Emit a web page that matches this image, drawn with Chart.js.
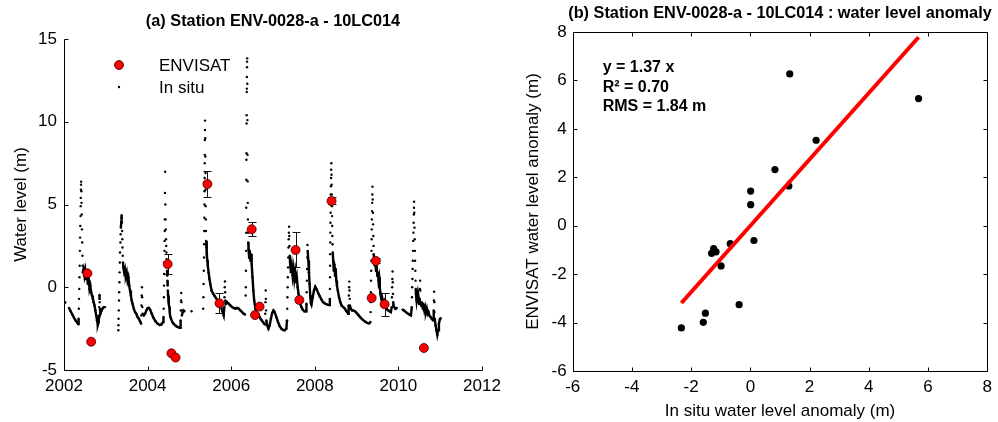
<!DOCTYPE html>
<html>
<head>
<meta charset="utf-8">
<script src="https://cdn.jsdelivr.net/npm/chart.js@4/dist/chart.umd.min.js"></script>
<style>
  html, body { margin: 0; padding: 0; background: #fff; }
  #wrap { position: relative; width: 998px; height: 422px; overflow: hidden; }
  canvas { position: absolute; top: 0; }
  #left { left: 0; }
  #right { left: 500px; }
</style>
</head>
<body>
<div id="wrap">
  <canvas id="left" width="540" height="422"></canvas>
  <canvas id="right" width="498" height="422"></canvas>
</div>
<script>
const FONT = '"Liberation Sans", Arial, sans-serif'

// tick labels
const yearTicks = [2002, 2004, 2006, 2008, 2010, 2012]
const levelTicks = [-5, 0, 5, 10, 15]
const anomTicks = [-6, -4, -2, 0, 2, 4, 6, 8]

// (a) ENVISAT water level (m) with error bars
const envYear    = [2002.56, 2002.65, 2004.48, 2004.57, 2004.67, 2005.43, 2005.72, 2006.49, 2006.57, 2006.68, 2007.54, 2007.63, 2008.40, 2009.36, 2009.46, 2009.67, 2010.61]
const envLevel   = [0.84, -3.29, 1.40, -3.99, -4.25, 6.24, -0.97, 3.50, -1.68, -1.17, 2.25, -0.77, 5.21, -0.65, 1.59, -1.03, -3.67]
const envErrLow  = [null, null, 0.80, null, null, 5.47, -1.58, 3.12, null, null, 1.20, -0.90, 5.03, null, 1.45, -1.74, null]
const envErrHigh = [null, null, 2.01, null, null, 7.04, -0.37, 3.92, null, null, 3.32, -0.65, 5.47, null, 1.75, -0.37, null]

// (a) in situ water level, [year, m]
const insitu2002 = [
  [2002.00,-0.88],[2002.03,-0.92],
  [2002.12,-1.25],[2002.16,-1.45],[2002.20,-1.65],[2002.24,-1.85],[2002.28,-2.02],[2002.32,-2.15],[2002.34,-2.22],
  [2002.350,-1.9],[2002.355,-1.3],[2002.360,-0.7],[2002.365,-0.1],[2002.370,0.6],[2002.375,1.3],[2002.380,2.2],[2002.385,3.0],[2002.390,3.7],[2002.395,4.3],[2002.400,4.9],[2002.402,5.4],[2002.405,5.9],[2002.408,6.2],[2002.410,6.38],
  [2002.415,5.8],[2002.420,5.1],[2002.425,4.4],[2002.430,3.5],[2002.435,2.7],[2002.440,1.9],[2002.445,1.3],
  [2002.45,0.9],[2002.47,1.1],[2002.49,0.7],[2002.51,1.0],[2002.53,0.5],[2002.55,0.9],[2002.57,0.2],[2002.59,0.6],[2002.61,-0.1],[2002.63,0.1],[2002.65,-0.3],[2002.67,-0.5],[2002.69,-0.7],[2002.71,-0.9],[2002.73,-1.1],[2002.75,-1.4],[2002.77,-1.7],[2002.79,-2.0],[2002.81,-2.28],[2002.83,-2.1],
  [2002.838,-1.7],[2002.842,-1.2],[2002.846,-0.7],[2002.850,-0.47],[2002.855,-0.9],[2002.860,-1.3],[2002.87,-1.6],[2002.89,-1.45],[2002.92,-1.3],[2002.95,-1.2],[2002.98,-1.2]
]
const insitu2003 = [
  [2003.300,-2.6],[2003.302,-2.3],[2003.305,-1.9],[2003.310,-1.4],[2003.315,-0.8],[2003.320,-0.3],[2003.325,0.3],[2003.330,0.9],[2003.335,1.5],[2003.340,2.1],[2003.350,2.7],[2003.355,3.2],[2003.360,3.6],[2003.370,3.95],[2003.375,4.2],[2003.380,4.35],
  [2003.385,3.9],[2003.390,3.4],[2003.395,2.9],[2003.400,2.4],[2003.405,1.9],[2003.410,1.5],
  [2003.42,1.2],[2003.44,0.9],[2003.46,1.1],[2003.48,0.7],[2003.50,0.9],[2003.52,0.4],[2003.54,0.6],[2003.56,0.1],[2003.58,-0.2],[2003.60,-0.5],[2003.62,-0.8],[2003.64,-1.0],[2003.67,-1.3],[2003.70,-1.5],[2003.73,-1.6],[2003.76,-1.8],[2003.79,-1.9],[2003.82,-2.05],[2003.845,-2.2],
  [2003.850,-1.7],[2003.855,-1.1],[2003.860,-0.5],[2003.865,0.0],[2003.870,-0.6],[2003.875,-1.2],[2003.88,-1.6],[2003.91,-1.7],[2003.94,-1.6],[2003.97,-1.4],[2004.00,-1.27],[2004.03,-1.25],[2004.06,-1.35],[2004.10,-1.6],[2004.14,-1.85],[2004.19,-2.05],[2004.24,-2.2],[2004.29,-2.28],[2004.33,-2.25],[2004.37,-2.1]
]
const insitu2004 = [
  [2004.380,-1.8],[2004.385,-1.3],[2004.390,-0.6],[2004.393,0.1],[2004.396,0.8],[2004.400,1.5],[2004.403,2.2],[2004.406,2.8],[2004.410,3.4],[2004.413,4.1],[2004.416,5.7],[2004.420,6.98],
  [2004.425,5.0],[2004.430,4.1],[2004.435,3.5],[2004.440,2.9],[2004.445,2.5],[2004.450,2.1],[2004.455,1.7],[2004.460,1.3],[2004.465,1.0],[2004.470,0.7],[2004.475,0.4],[2004.480,0.1],[2004.485,-0.2],
  [2004.49,-0.5],[2004.50,-0.85],[2004.51,-1.0],[2004.52,-1.2],[2004.53,-1.5],[2004.54,-1.75],[2004.56,-1.9],[2004.59,-2.1],[2004.62,-2.2],[2004.66,-2.3],[2004.70,-2.38],[2004.74,-2.42],[2004.78,-2.45],
  [2004.790,-2.0],[2004.795,-1.4],[2004.800,-0.8],[2004.805,-0.35],[2004.810,-0.9],[2004.815,-1.4],[2004.82,-1.7],[2004.84,-1.5],[2004.86,-1.4],[2004.88,-1.45],
  [2005.05,-1.45]
]
const insitu2005 = [
  [2005.330,-1.3],[2005.335,-0.6],[2005.340,0.2],[2005.345,1.0],[2005.350,1.8],[2005.352,2.6],[2005.355,3.4],[2005.358,4.2],[2005.360,5.0],[2005.362,5.8],[2005.365,6.6],[2005.367,7.5],[2005.368,8.0],[2005.370,8.9],[2005.372,9.5],[2005.374,10.07],
  [2005.378,9.0],[2005.381,7.9],[2005.384,6.9],[2005.387,5.9],[2005.390,4.9],[2005.393,4.1],[2005.396,3.4],[2005.400,2.8],
  [2005.41,2.4],[2005.42,2.0],[2005.43,1.6],[2005.44,1.3],[2005.46,0.9],[2005.48,0.5],[2005.50,0.2],[2005.53,-0.2],[2005.57,-0.4],[2005.61,-0.55],[2005.65,-0.7],[2005.69,-0.85],[2005.73,-1.0],[2005.76,-1.2],[2005.79,-1.45],[2005.82,-1.7],
  [2005.835,-1.2],[2005.840,-0.6],[2005.845,0.0],[2005.850,0.35],[2005.855,-0.3],[2005.860,-0.8],[2005.87,-1.0],[2005.90,-0.9],[2005.94,-1.0],[2005.98,-1.1],[2006.02,-1.2],[2006.06,-1.25],[2006.10,-1.3],[2006.14,-1.25],[2006.18,-1.3],[2006.22,-1.4],[2006.26,-1.5],[2006.30,-1.6],[2006.33,-1.65]
]
const insitu2006 = [
  [2006.347,-0.5],[2006.350,0.0],[2006.352,1.0],[2006.355,2.2],[2006.358,3.3],[2006.360,4.8],[2006.362,6.5],[2006.364,7.7],[2006.366,8.1],[2006.368,9.9],[2006.370,10.4],[2006.372,11.8],[2006.374,12.0],[2006.376,12.7],[2006.378,13.3],[2006.380,13.63],[2006.382,13.83],
  [2006.385,12.3],[2006.388,10.1],[2006.391,8.0],[2006.394,6.4],[2006.397,5.1],[2006.400,4.1],[2006.404,3.3],[2006.408,2.7],
  [2006.415,2.3],[2006.43,1.8],[2006.445,2.2],[2006.46,1.6],[2006.475,2.0],[2006.49,1.4],[2006.51,0.6],[2006.53,-0.2],[2006.55,-0.8],[2006.58,-1.3],[2006.61,-1.55],[2006.64,-1.6],[2006.67,-1.75],[2006.70,-1.9],[2006.73,-2.0],[2006.76,-2.1],[2006.79,-2.2],[2006.81,-2.25],
  [2006.815,-1.6],[2006.820,-0.9],[2006.825,-0.2],[2006.830,-0.7],[2006.835,-1.4],[2006.840,-2.0],[2006.86,-2.3],[2006.89,-2.5],[2006.92,-2.3],[2006.95,-1.9],[2006.98,-1.55],[2007.01,-1.4],[2007.04,-1.5],[2007.08,-1.8],[2007.12,-2.1],[2007.16,-2.35],[2007.20,-2.5],[2007.24,-2.58],[2007.28,-2.6],[2007.32,-2.5]
]
const insitu2007 = [
  [2007.335,-2.0],[2007.340,-1.3],[2007.345,-0.6],[2007.350,0.0],[2007.355,0.6],[2007.360,1.2],[2007.365,1.8],[2007.370,2.4],[2007.375,2.9],[2007.380,3.3],[2007.385,3.66],
  [2007.390,3.1],[2007.395,2.5],[2007.400,1.9],[2007.41,1.4],[2007.43,0.9],[2007.45,1.3],[2007.47,0.7],[2007.49,1.1],[2007.51,0.5],[2007.53,0.9],[2007.55,0.3],[2007.57,0.6],[2007.59,0.0],[2007.61,-0.4],[2007.63,-0.7],[2007.65,-1.0],[2007.68,-1.2],[2007.71,-1.35],[2007.75,-1.45],[2007.79,-1.45],
  [2007.800,-1.0],[2007.805,-0.3],[2007.810,0.4],[2007.815,1.1],[2007.820,1.8],[2007.825,2.55],
  [2007.83,2.2],[2007.845,1.6],[2007.86,0.9],[2007.875,0.2],[2007.89,-0.5],[2007.905,-0.95],[2007.92,-1.05],[2007.95,-0.6],[2007.98,-0.2],[2008.01,0.03],[2008.04,-0.1],[2008.08,-0.35],[2008.12,-0.55],[2008.16,-0.75],[2008.20,-0.9],[2008.25,-1.0],[2008.30,-1.05],[2008.35,-1.07]
]
const insitu2008 = [
  [2008.360,-0.7],[2008.362,-0.1],[2008.364,0.6],[2008.366,1.3],[2008.368,2.0],[2008.370,2.7],[2008.372,3.3],[2008.375,3.9],[2008.378,4.5],[2008.380,5.0],[2008.383,5.6],[2008.386,6.1],[2008.390,6.6],[2008.393,7.1],[2008.396,7.49],
  [2008.400,6.8],[2008.403,6.2],[2008.406,5.6],[2008.410,4.9],[2008.413,4.3],[2008.416,3.7],[2008.420,3.1],[2008.425,2.6],[2008.430,2.1],
  [2008.44,1.6],[2008.455,1.0],[2008.47,1.4],[2008.485,0.7],[2008.50,1.1],[2008.515,0.4],[2008.53,0.1],[2008.55,-0.2],[2008.58,-0.6],[2008.61,-0.9],[2008.64,-1.1],[2008.68,-1.2],[2008.72,-1.3],[2008.76,-1.45],[2008.80,-1.6],
  [2008.810,-1.1],[2008.815,-0.5],[2008.820,0.0],[2008.825,0.34],[2008.830,-0.2],[2008.835,-0.7],[2008.84,-1.1],[2008.86,-1.3],[2008.89,-1.4],[2008.92,-1.4],[2008.96,-1.45],[2009.00,-1.55],[2009.05,-1.7],[2009.10,-1.85],[2009.15,-1.97],[2009.20,-2.07],[2009.25,-2.15],[2009.30,-2.18],[2009.33,-2.1]
]
const insitu2009 = [
  [2009.335,-1.5],[2009.340,-0.9],[2009.343,-0.3],[2009.346,0.4],[2009.350,1.0],[2009.353,1.6],[2009.356,2.2],[2009.360,2.9],[2009.363,3.5],[2009.366,4.1],[2009.370,4.6],[2009.373,5.1],[2009.376,5.6],[2009.380,6.08],
  [2009.385,5.3],[2009.390,4.5],[2009.395,3.8],[2009.400,3.1],[2009.405,2.5],[2009.410,2.0],
  [2009.42,1.7],[2009.435,1.3],[2009.45,1.6],[2009.465,1.0],[2009.48,1.3],[2009.495,0.7],[2009.51,0.9],[2009.525,0.4],[2009.54,0.6],[2009.555,0.0],[2009.57,-0.4],[2009.59,-0.7],[2009.61,-0.9],[2009.63,-0.8],[2009.65,-1.0],[2009.67,-0.85],[2009.69,-1.1],[2009.71,-1.2],[2009.73,-1.35],[2009.76,-1.4],[2009.79,-1.45],[2009.82,-1.5],
  [2009.840,-1.2],[2009.845,-0.6],[2009.850,0.0],[2009.855,0.5],[2009.860,0.95],[2009.865,0.3],[2009.870,-0.4],[2009.875,-0.9],[2009.88,-1.1],[2009.90,-1.2],[2009.93,-1.3],[2009.96,-1.25]
]
const insitu2010 = [
  [2010.10,-1.35],[2010.14,-1.42],[2010.18,-1.5],[2010.22,-1.58],[2010.26,-1.65],[2010.30,-1.7],
  [2010.320,-1.2],[2010.325,-0.6],[2010.330,0.0],[2010.335,0.5],[2010.340,1.1],[2010.345,1.6],[2010.350,2.2],[2010.355,2.8],[2010.360,3.3],[2010.365,3.9],[2010.370,4.4],[2010.373,4.8],[2010.376,5.17],
  [2010.380,4.5],[2010.385,3.6],[2010.390,2.9],[2010.395,2.2],[2010.400,1.6],[2010.405,1.0],[2010.410,0.4],[2010.415,-0.1],
  [2010.42,-0.4],[2010.435,-0.8],[2010.45,-0.5],[2010.465,-0.9],[2010.48,-0.6],[2010.495,-1.0],[2010.51,-0.7],[2010.515,-0.1],[2010.52,0.4],[2010.525,-0.2],[2010.53,-0.9],[2010.545,-1.1],[2010.56,-0.9],[2010.58,-1.2],[2010.60,-1.1],[2010.62,-1.4],[2010.64,-1.2],[2010.66,-1.5],[2010.68,-1.3],[2010.70,-1.6],[2010.72,-1.5],[2010.74,-1.7],[2010.77,-1.8],[2010.80,-1.9],[2010.83,-2.0],
  [2010.845,-1.4],[2010.850,-0.8],[2010.855,-0.27],[2010.860,-0.9],[2010.865,-1.5],[2010.870,-1.9],[2010.89,-2.3],[2010.91,-2.6],[2010.93,-2.88],[2010.95,-2.6],[2010.97,-2.2],[2010.99,-1.95],[2011.01,-1.87]
]

// (b) water level anomaly (m)
const anomInsitu  = [5.68, 1.33, 2.22, 0.83, 1.30, 0.01, 0.01, 0.12, -0.68, -1.24, -1.31, -1.16, -0.99, -0.38, -1.52, -1.59, -2.33]
const anomEnvisat = [5.25, 6.27, 3.53, 2.32, 1.64, 1.43, 0.87, -0.61, -0.74, -0.95, -1.14, -1.08, -1.66, -3.26, -3.61, -3.99, -4.22]
const fitSlope = 1.37
const fitNotes = ['y = 1.37 x', 'R\u00b2 = 0.70', 'RMS = 1.84 m']

const insitu = [].concat(insitu2002, insitu2003, insitu2004, insitu2005, insitu2006, insitu2007, insitu2008, insitu2009, insitu2010)

// join neighbouring daily values only where the record is dense
const joinDense = (ctx) => {
    const d = ctx.chart.data.datasets[ctx.datasetIndex].data
    const a = d[ctx.p0DataIndex], b = d[ctx.p1DataIndex]
    const dt = b.x - a.x
    return dt > 0 && dt < 0.06 && Math.abs(b.y - a.y) / dt < 60 ? '#000' : 'rgba(0,0,0,0)'
}

const frame = {
    id: 'frame',
    beforeDatasetsDraw(chart, args, o) {
        if (!o.errors) return
        const {ctx, scales: {x, y}} = chart
        ctx.save()
        ctx.strokeStyle = '#111'
        ctx.lineWidth = 1
        o.errors.low.forEach((lo, i) => {
            if (lo === null) return
            const px = Math.round(x.getPixelForValue(o.errors.at[i])) + 0.5
            const y1 = Math.round(y.getPixelForValue(lo)) + 0.5
            const y2 = Math.round(y.getPixelForValue(o.errors.high[i])) + 0.5
            ctx.beginPath()
            ctx.moveTo(px, y1); ctx.lineTo(px, y2)
            ctx.moveTo(px - 4, y1); ctx.lineTo(px + 4, y1)
            ctx.moveTo(px - 4, y2); ctx.lineTo(px + 4, y2)
            ctx.stroke()
        })
        ctx.restore()
    },
    afterDraw(chart, args, o) {
        const {ctx, chartArea: a, scales: {x, y}} = chart
        const L = Math.round(a.left) + 0.5, R = Math.round(a.right) + 0.5
        const T = Math.round(a.top) + 0.5, B = Math.round(a.bottom) + 0.5
        ctx.save()
        ctx.strokeStyle = '#000'
        ctx.lineWidth = 1
        ctx.beginPath()
        if (o.box) {
            ctx.rect(L, T, R - L, B - T)
        } else {
            ctx.moveTo(L, T); ctx.lineTo(L, B); ctx.lineTo(R, B)
        }
        x.ticks.forEach(t => {
            const p = Math.round(x.getPixelForValue(t.value)) + 0.5
            ctx.moveTo(p, B); ctx.lineTo(p, B - 4)
            if (o.box) { ctx.moveTo(p, T); ctx.lineTo(p, T + 4) }
        })
        y.ticks.forEach(t => {
            const p = Math.round(y.getPixelForValue(t.value)) + 0.5
            ctx.moveTo(L, p); ctx.lineTo(L + 4, p)
            if (o.box) { ctx.moveTo(R, p); ctx.lineTo(R - 4, p) }
        })
        ctx.stroke()

        ctx.fillStyle = '#000'
        ctx.textBaseline = 'middle'
        ctx.textAlign = 'center'
        ctx.font = 'bold 16.3px ' + FONT
        ctx.fillText(o.title, (a.left + a.right) / 2, o.titleY)

        if (o.legend) {
            const ds = chart.data.datasets
            ctx.textAlign = 'left'
            ctx.font = '17px ' + FONT
            ctx.beginPath()
            ctx.arc(119, 65, 4.5, 0, Math.PI * 2)
            ctx.fillStyle = ds[0].backgroundColor
            ctx.fill()
            ctx.strokeStyle = ds[0].borderColor
            ctx.lineWidth = 0.8
            ctx.stroke()
            ctx.beginPath()
            ctx.arc(119, 87, 1.2, 0, Math.PI * 2)
            ctx.fillStyle = '#000'
            ctx.fill()
            ctx.fillText(ds[0].label, 159, 66)
            ctx.fillText(ds[1].label, 159, 88)
        }
        if (o.notes) {
            ctx.textAlign = 'left'
            ctx.font = 'bold 16px ' + FONT
            o.notes.forEach((s, i) => ctx.fillText(s, a.left + 30, a.top + 36 + i * 19.5))
        }
        ctx.restore()
    }
}

const tickFont = {family: FONT, size: 17}
const axisTitle = (text, pad) => ({display: true, text: text, color: '#000', font: {family: FONT, size: 17}, padding: pad})
const fixedTicks = (list) => (s) => { s.ticks = list.map(v => ({value: v})) }

const leftChart = new Chart(document.getElementById('left'), {
    type: 'scatter',
    data: {
        datasets: [{
            label: 'ENVISAT',
            data: envYear.map((t, i) => ({x: t, y: envLevel[i]})),
            backgroundColor: '#ff0000',
            borderColor: '#3a0000',
            borderWidth: 0.8,
            pointRadius: 4.5
        }, {
            label: 'In situ',
            data: insitu.map(p => ({x: p[0], y: p[1]})),
            showLine: true,
            borderColor: '#000',
            borderWidth: 2.4,
            segment: {borderColor: joinDense},
            backgroundColor: '#000',
            pointRadius: 1.2,
            pointBorderWidth: 0
        }]
    },
    options: {
        responsive: false,
        animation: false,
        events: [],
        layout: {padding: {left: 0, top: 39, right: 58, bottom: 0}},
        plugins: {
            legend: {display: false},
            tooltip: {enabled: false},
            frame: {
                title: '(a) Station ENV-0028-a - 10LC014',
                titleY: 22,
                box: false,
                legend: true,
                errors: {at: envYear, low: envErrLow, high: envErrHigh}
            }
        },
        scales: {
            x: {
                type: 'linear', min: 2002, max: 2012,
                afterBuildTicks: fixedTicks(yearTicks),
                afterFit: s => { s.height = 52 },
                ticks: {color: '#000', font: tickFont, padding: 6, maxRotation: 0, autoSkip: false, callback: v => String(v)},
                grid: {display: false, drawTicks: false},
                border: {display: false}
            },
            y: {
                type: 'linear', min: -5, max: 15,
                afterBuildTicks: fixedTicks(levelTicks),
                afterFit: s => { s.width = 64 },
                ticks: {color: '#000', font: tickFont, padding: 7, callback: v => String(v)},
                grid: {display: false, drawTicks: false},
                border: {display: false},
                title: axisTitle('Water level (m)', {top: 11, bottom: 0})
            }
        }
    },
    plugins: [frame]
})

const fitX = [Math.min(...anomInsitu), Math.max(...anomInsitu)]

const rightChart = new Chart(document.getElementById('right'), {
    type: 'scatter',
    data: {
        datasets: [{
            label: 'fit',
            data: fitX.map(v => ({x: v, y: fitSlope * v})),
            showLine: true,
            borderColor: '#ff0000',
            borderWidth: 4,
            pointRadius: 0
        }, {
            label: 'anomaly',
            data: anomInsitu.map((v, i) => ({x: v, y: anomEnvisat[i]})),
            backgroundColor: '#000',
            borderWidth: 0,
            pointRadius: 3.6
        }]
    },
    options: {
        responsive: false,
        animation: false,
        events: [],
        layout: {padding: {left: 0, top: 32, right: 7, bottom: 0}},
        plugins: {
            legend: {display: false},
            tooltip: {enabled: false},
            frame: {
                title: '(b) Station ENV-0028-a - 10LC014 : water level anomaly',
                titleY: 14,
                box: true,
                notes: fitNotes
            }
        },
        scales: {
            x: {
                type: 'linear', min: -6, max: 8,
                afterBuildTicks: fixedTicks(anomTicks),
                afterFit: s => { s.height = 51 },
                ticks: {color: '#000', font: tickFont, padding: 6, maxRotation: 0, autoSkip: false, callback: v => String(v)},
                grid: {display: false, drawTicks: false},
                border: {display: false},
                title: axisTitle('In situ water level anomaly (m)', {top: 0, bottom: 0})
            },
            y: {
                type: 'linear', min: -6, max: 8,
                afterBuildTicks: fixedTicks(anomTicks),
                afterFit: s => { s.width = 72.7 },
                ticks: {color: '#000', font: tickFont, padding: 6, callback: v => String(v)},
                grid: {display: false, drawTicks: false},
                border: {display: false},
                title: axisTitle('ENVISAT water level anomaly (m)', {top: 23, bottom: 0})
            }
        }
    },
    plugins: [frame]
})
</script>
</body>
</html>
